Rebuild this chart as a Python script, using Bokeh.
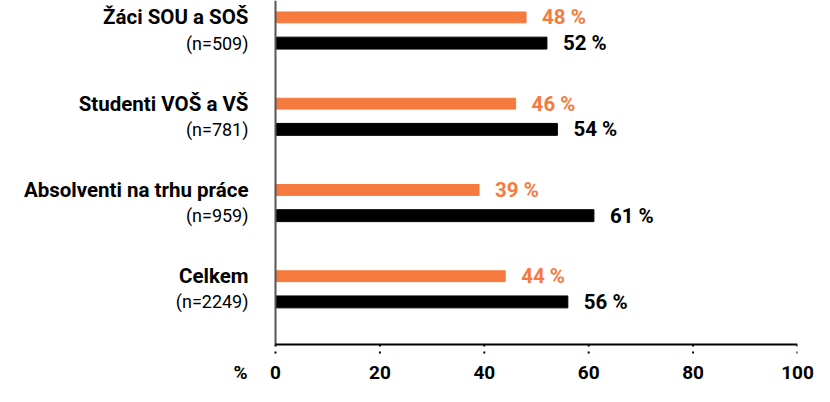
from bokeh.plotting import figure
from bokeh.models import Range1d, ColumnDataSource, FixedTicker
from bokeh.core.properties import value
from bokeh.transform import dodge
from bokeh.embed import file_html
from bokeh.resources import INLINE

categories = ["Žáci SOU a SOŠ", "Studenti VOŠ a VŠ", "Absolventi na trhu práce", "Celkem"]
n_labels = ["(n=509)", "(n=781)", "(n=959)", "(n=2249)"]
orange_values = [48, 46, 39, 44]
black_values = [52, 54, 61, 56]
x_ticks = [0, 20, 40, 60, 80, 100]
unit_label = "%"

ORANGE = "#F47A3D"
FONT = "Roboto"

src = ColumnDataSource(dict(
    pos=list(range(len(categories))),
    cat=categories,
    n=n_labels,
    orange=orange_values,
    black=black_values,
    orange_txt=[f"{v} %" for v in orange_values],
    black_txt=[f"{v} %" for v in black_values],
    zero=[0] * len(categories),
))

y_top, y_bottom = -0.345, 3.805
axis_y = 3.644
unit_x = -6.7

p = figure(width=814, height=386, output_backend="svg", toolbar_location=None,
           x_range=Range1d(-52.68, 100), y_range=Range1d(y_bottom, y_top),
           min_border_left=0, min_border_right=17, min_border_top=0, min_border_bottom=0)
p.outline_line_color = None
p.xgrid.visible = False
p.ygrid.visible = False
p.yaxis.visible = False

off = 0.149
p.hbar(y=dodge("pos", -off, range=p.y_range), right="orange", left=0, height=0.126,
       color=ORANGE, source=src)
p.hbar(y=dodge("pos", off, range=p.y_range), right="black", left=0, height=0.138,
       color="black", source=src)

big = dict(text_font=value(FONT), text_font_size=value("20.5px"), text_baseline="middle")
small = dict(text_font=value(FONT), text_font_size=value("18px"), text_baseline="middle")
p.text(x="orange", y=dodge("pos", -off, range=p.y_range), text="orange_txt", x_offset=16,
       text_color=ORANGE, text_font_style="bold", source=src, **big)
p.text(x="black", y=dodge("pos", off, range=p.y_range), text="black_txt", x_offset=16,
       text_color="black", text_font_style="bold", source=src, **big)
p.text(x="zero", y=dodge("pos", -off, range=p.y_range), text="cat", x_offset=-27,
       text_align="right", text_color="black", text_font_style="bold", source=src, **big)
p.text(x="zero", y=dodge("pos", off, range=p.y_range), text="n", x_offset=-27,
       text_align="right", text_color="black", source=src, **small)

# axis lines and dotted ticks
p.segment(x0=[0], y0=[y_top], x1=[0], y1=[axis_y], line_color="#555555", line_width=2)
p.segment(x0=[x_ticks[0]], y0=[axis_y], x1=[x_ticks[-1]], y1=[axis_y],
          line_color="black", line_width=2)
p.segment(x0=x_ticks, y0=[axis_y] * len(x_ticks), x1=x_ticks, y1=[y_bottom] * len(x_ticks),
          line_color="black", line_width=2, line_dash="2 5")

xa = p.xaxis[0]
xa.ticker = FixedTicker(ticks=[unit_x] + x_ticks)
xa.major_label_overrides = {unit_x: unit_label}
xa.minor_tick_line_color = None
xa.axis_line_color = None
xa.major_tick_line_color = None
xa.major_tick_in = 0
xa.major_tick_out = 0
xa.major_label_standoff = 2
xa.major_label_text_font = FONT
xa.major_label_text_font_size = "19px"
xa.major_label_text_font_style = "bold"
xa.major_label_text_color = "black"

open("out.html", "w").write(file_html(p, INLINE))
